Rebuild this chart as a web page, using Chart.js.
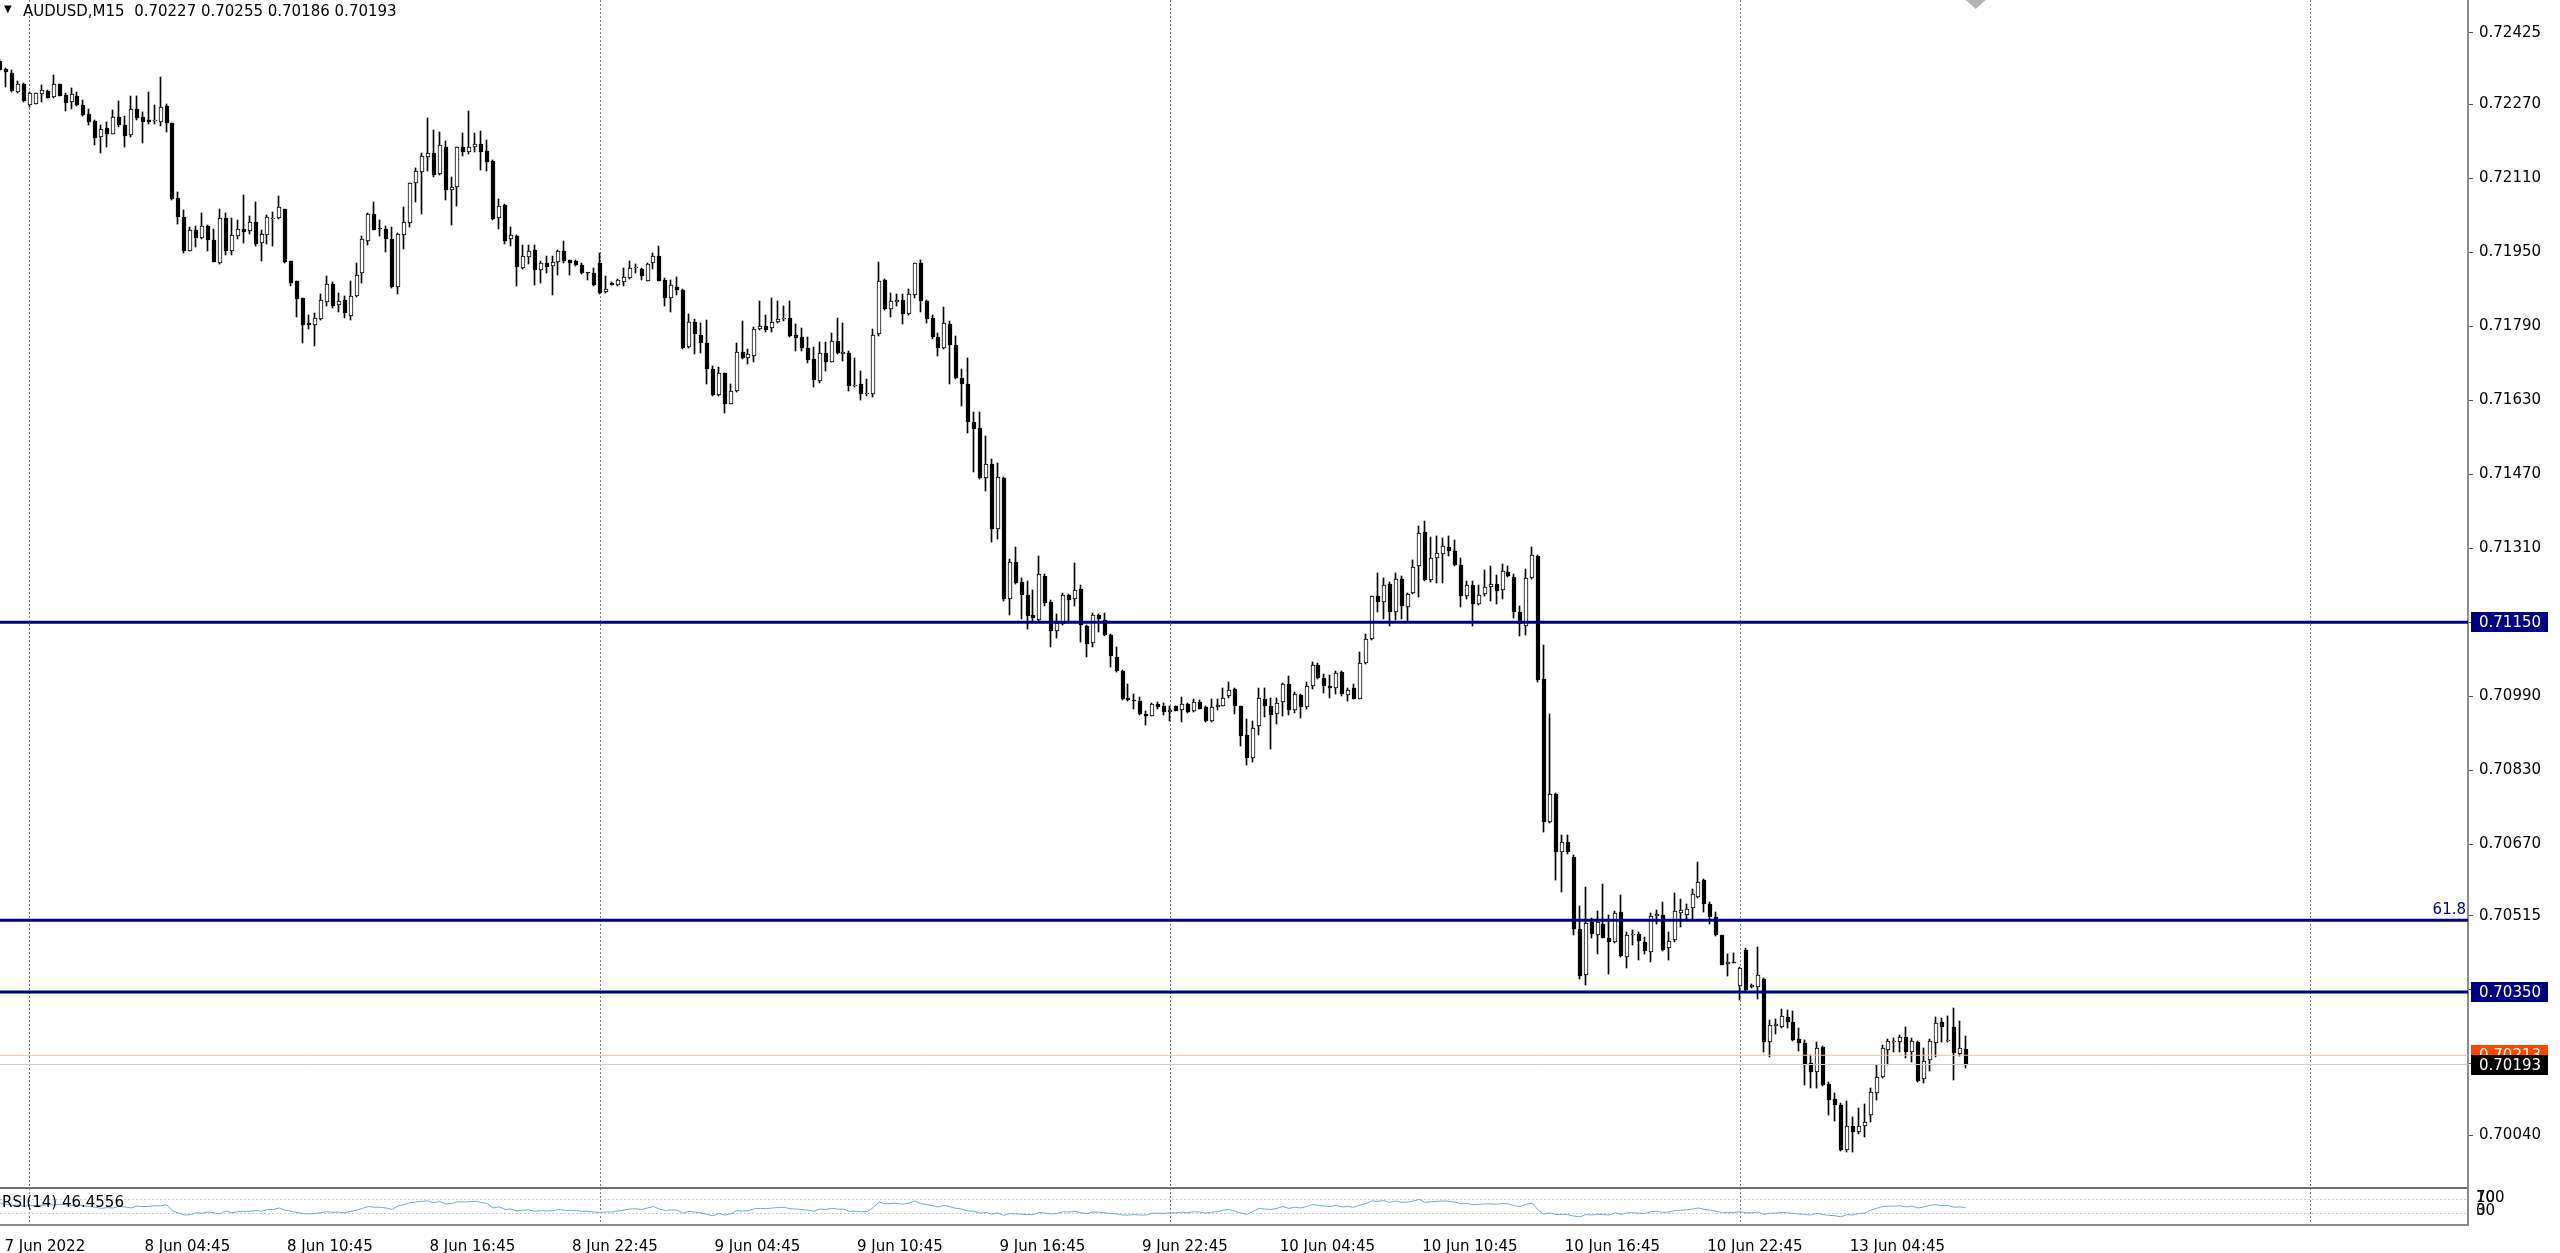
<!DOCTYPE html>
<html>
<head>
<meta charset="utf-8">
<script src="https://cdn.jsdelivr.net/npm/chart.js@4.4.0/dist/chart.umd.min.js"></script>
<style>
html, body { margin: 0; padding: 0; background: #fff; overflow: hidden; }
#wrap { position: relative; width: 2560px; height: 1253px; }
#main { position: absolute; left: 0; top: 0; }
#sub { position: absolute; left: 0; top: 1187px; }
.lbl { position: absolute; font: 15px "DejaVu Sans", sans-serif; color: #000; white-space: pre; }
</style>
</head>
<body>
<div id="wrap">
  <canvas id="main" width="2560" height="1187"></canvas>
  <canvas id="sub" width="2560" height="66"></canvas>
  <div class="lbl" style="left:4px;top:3px;font-size:10px">▼</div>
  <div class="lbl" style="left:23px;top:2px">AUDUSD,M15  0.70227 0.70255 0.70186 0.70193</div>
  <div class="lbl" style="left:2px;top:1193px">RSI(14) 46.4556</div>
</div>
<script>
// AUDUSD M15 candles (oldest first)
const opens = [
  0.72364,0.72347,0.72338,0.72297,0.72315,0.72269,0.72272,0.72292,0.72300,0.72287,
  0.72314,0.72290,0.72275,0.72288,0.72268,0.72249,0.72235,0.72199,0.72220,0.72207,
  0.72243,0.72225,0.72204,0.72261,0.72242,0.72236,0.72234,0.72233,0.72266,0.72229,
  0.72067,0.72027,0.71954,0.71999,0.71981,0.72007,0.71977,0.71928,0.72024,0.71954,
  0.71986,0.72000,0.71997,0.72015,0.71970,0.71988,0.72023,0.72024,0.72043,0.71932,
  0.71887,0.71851,0.71798,0.71792,0.71806,0.71843,0.71881,0.71837,0.71847,0.71813,
  0.71855,0.71906,0.71974,0.72033,0.72003,0.72001,0.71978,0.71875,0.71988,0.72014,
  0.72100,0.72123,0.72156,0.72166,0.72120,0.72178,0.72084,0.72091,0.72178,0.72168,
  0.72177,0.72184,0.72170,0.72147,0.72024,0.72053,0.71978,0.71986,0.71916,0.71940,
  0.71955,0.71911,0.71927,0.71920,0.71929,0.71952,0.71933,0.71931,0.71922,0.71906,
  0.71906,0.71927,0.71864,0.71884,0.71879,0.71885,0.71895,0.71917,0.71914,0.71889,
  0.71926,0.71943,0.71891,0.71852,0.71876,0.71869,0.71746,0.71799,0.71771,0.71753,
  0.71697,0.71642,0.71688,0.71623,0.71650,0.71735,0.71722,0.71726,0.71785,0.71791,
  0.71787,0.71800,0.71805,0.71807,0.71771,0.71767,0.71744,0.71720,0.71672,0.71733,
  0.71713,0.71758,0.71730,0.71733,0.71660,0.71665,0.71643,0.71643,0.71773,0.71890,
  0.71827,0.71843,0.71848,0.71816,0.71857,0.71926,0.71845,0.71807,0.71767,0.71744,
  0.71796,0.71749,0.71679,0.71666,0.71582,0.71569,0.71462,0.71493,0.71352,0.71462,
  0.71200,0.71281,0.71236,0.71208,0.71165,0.71155,0.71250,0.71194,0.71131,0.71146,
  0.71208,0.71200,0.71221,0.71141,0.71104,0.71165,0.71155,0.71123,0.71075,0.71045,
  0.70985,0.70982,0.70980,0.70951,0.70948,0.70974,0.70968,0.70955,0.70968,0.70960,
  0.70974,0.70957,0.70978,0.70966,0.70937,0.70966,0.70969,0.70991,0.71005,0.70968,
  0.70906,0.70856,0.70926,0.70984,0.70968,0.70951,0.70978,0.71016,0.70961,0.70992,
  0.70966,0.71012,0.71058,0.71030,0.71012,0.71007,0.71042,0.70993,0.71007,0.70984,
  0.71062,0.71114,0.71206,0.71194,0.71232,0.71173,0.71243,0.71182,0.71214,0.71272,
  0.71345,0.71242,0.71288,0.71297,0.71312,0.71303,0.71274,0.71207,0.71230,0.71189,
  0.71211,0.71225,0.71232,0.71220,0.71259,0.71247,0.71173,0.71142,0.71245,0.71294,
  0.71026,0.70718,0.70779,0.70653,0.70674,0.70642,0.70486,0.70386,0.70502,0.70474,
  0.70498,0.70466,0.70457,0.70522,0.70426,0.70473,0.70476,0.70458,0.70437,0.70514,
  0.70516,0.70444,0.70462,0.70520,0.70516,0.70532,0.70556,0.70592,0.70541,0.70512,
  0.70473,0.70411,0.70415,0.70363,0.70440,0.70360,0.70361,0.70379,0.70242,0.70277,
  0.70275,0.70295,0.70286,0.70248,0.70240,0.70196,0.70176,0.70230,0.70150,0.70119,
  0.70106,0.70008,0.70059,0.70047,0.70059,0.70084,0.70131,0.70165,0.70224,0.70241,
  0.70242,0.70253,0.70219,0.70242,0.70162,0.70203,0.70240,0.70286,0.70244,0.70275,
  0.70215,0.70227
];
const highs = [
  0.72369,0.72348,0.72344,0.72321,0.72317,0.72297,0.72295,0.72312,0.72301,0.72334,
  0.72315,0.72294,0.72305,0.72297,0.72279,0.72260,0.72236,0.72225,0.72233,0.72259,
  0.72277,0.72245,0.72288,0.72288,0.72254,0.72296,0.72269,0.72330,0.72272,0.72230,
  0.72081,0.72042,0.72004,0.72006,0.72035,0.72009,0.72000,0.72043,0.72035,0.72025,
  0.72020,0.72074,0.72029,0.72058,0.71999,0.72031,0.72038,0.72071,0.72044,0.71932,
  0.71889,0.71851,0.71815,0.71819,0.71860,0.71899,0.71885,0.71863,0.71855,0.71888,
  0.71926,0.71985,0.72035,0.72060,0.72021,0.72006,0.72005,0.71992,0.72048,0.72101,
  0.72132,0.72166,0.72240,0.72215,0.72210,0.72190,0.72114,0.72179,0.72208,0.72255,
  0.72208,0.72212,0.72194,0.72149,0.72065,0.72055,0.72004,0.71988,0.71967,0.71967,
  0.71965,0.71931,0.71943,0.71942,0.71956,0.71974,0.71934,0.71934,0.71927,0.71906,
  0.71916,0.71949,0.71898,0.71885,0.71893,0.71916,0.71931,0.71925,0.71916,0.71927,
  0.71949,0.71963,0.71895,0.71890,0.71897,0.71870,0.71816,0.71805,0.71797,0.71804,
  0.71704,0.71701,0.71690,0.71665,0.71753,0.71802,0.71742,0.71789,0.71845,0.71814,
  0.71852,0.71845,0.71835,0.71845,0.71794,0.71787,0.71768,0.71746,0.71756,0.71756,
  0.71775,0.71807,0.71798,0.71737,0.71722,0.71694,0.71676,0.71785,0.71929,0.71892,
  0.71863,0.71861,0.71859,0.71871,0.71928,0.71933,0.71847,0.71814,0.71775,0.71832,
  0.71802,0.71769,0.71697,0.71722,0.71605,0.71604,0.71553,0.71504,0.71494,0.71465,
  0.71287,0.71313,0.71246,0.71239,0.71220,0.71293,0.71254,0.71198,0.71167,0.71214,
  0.71210,0.71279,0.71230,0.71143,0.71169,0.71167,0.71169,0.71124,0.71097,0.71046,
  0.71016,0.70994,0.70989,0.70958,0.70976,0.70978,0.70976,0.70969,0.70969,0.70989,
  0.70976,0.70984,0.70982,0.70968,0.70984,0.70984,0.71007,0.71021,0.71007,0.70969,
  0.70940,0.70937,0.71007,0.71007,0.70985,0.70985,0.71018,0.71034,0.70998,0.70994,
  0.71020,0.71064,0.71061,0.71038,0.71035,0.71045,0.71045,0.71007,0.71016,0.71085,
  0.71124,0.71207,0.71256,0.71245,0.71236,0.71256,0.71249,0.71214,0.71285,0.71357,
  0.71369,0.71335,0.71337,0.71331,0.71337,0.71328,0.71288,0.71240,0.71240,0.71230,
  0.71263,0.71271,0.71252,0.71276,0.71272,0.71254,0.71184,0.71265,0.71313,0.71295,
  0.71101,0.70952,0.70781,0.70689,0.70689,0.70646,0.70536,0.70577,0.70509,0.70525,
  0.70584,0.70516,0.70525,0.70559,0.70480,0.70484,0.70480,0.70469,0.70520,0.70527,
  0.70545,0.70480,0.70563,0.70552,0.70541,0.70572,0.70631,0.70595,0.70545,0.70523,
  0.70474,0.70433,0.70435,0.70404,0.70444,0.70368,0.70448,0.70381,0.70289,0.70291,
  0.70313,0.70311,0.70309,0.70273,0.70246,0.70214,0.70241,0.70234,0.70156,0.70131,
  0.70109,0.70114,0.70080,0.70098,0.70107,0.70143,0.70193,0.70235,0.70248,0.70251,
  0.70257,0.70275,0.70250,0.70244,0.70229,0.70248,0.70296,0.70293,0.70299,0.70316,
  0.70287,0.70255
];
const lows = [
  0.72343,0.72308,0.72297,0.72295,0.72275,0.72265,0.72271,0.72276,0.72284,0.72285,
  0.72288,0.72256,0.72261,0.72267,0.72245,0.72225,0.72182,0.72166,0.72177,0.72206,
  0.72222,0.72179,0.72200,0.72236,0.72187,0.72228,0.72228,0.72223,0.72211,0.72063,
  0.72012,0.71948,0.71953,0.71961,0.71978,0.71952,0.71929,0.71925,0.71944,0.71944,
  0.71978,0.71970,0.71990,0.71963,0.71932,0.71968,0.71963,0.72022,0.71928,0.71878,
  0.71811,0.71754,0.71784,0.71748,0.71803,0.71833,0.71829,0.71822,0.71808,0.71803,
  0.71854,0.71883,0.71967,0.71998,0.71985,0.71950,0.71874,0.71859,0.71957,0.72005,
  0.72060,0.72032,0.72127,0.72114,0.72118,0.72064,0.72010,0.72050,0.72159,0.72163,
  0.72168,0.72129,0.72125,0.72021,0.72001,0.71969,0.71963,0.71878,0.71913,0.71924,
  0.71880,0.71883,0.71906,0.71857,0.71902,0.71927,0.71900,0.71920,0.71904,0.71891,
  0.71878,0.71861,0.71862,0.71880,0.71877,0.71878,0.71893,0.71906,0.71890,0.71888,
  0.71913,0.71888,0.71835,0.71820,0.71857,0.71742,0.71744,0.71730,0.71733,0.71665,
  0.71640,0.71640,0.71602,0.71622,0.71647,0.71720,0.71708,0.71712,0.71782,0.71778,
  0.71778,0.71798,0.71802,0.71768,0.71737,0.71737,0.71710,0.71658,0.71668,0.71694,
  0.71712,0.71730,0.71715,0.71650,0.71658,0.71631,0.71640,0.71638,0.71769,0.71825,
  0.71811,0.71834,0.71794,0.71814,0.71852,0.71820,0.71797,0.71763,0.71726,0.71742,
  0.71665,0.71677,0.71618,0.71560,0.71474,0.71460,0.71434,0.71323,0.71330,0.71196,
  0.71165,0.71232,0.71156,0.71135,0.71149,0.71153,0.71185,0.71097,0.71115,0.71143,
  0.71149,0.71185,0.71106,0.71074,0.71097,0.71128,0.71119,0.71052,0.71043,0.70982,
  0.70979,0.70962,0.70950,0.70927,0.70946,0.70963,0.70949,0.70937,0.70957,0.70935,
  0.70953,0.70955,0.70962,0.70933,0.70935,0.70961,0.70968,0.70987,0.70951,0.70881,
  0.70841,0.70848,0.70906,0.70944,0.70876,0.70930,0.70946,0.70949,0.70953,0.70942,
  0.70962,0.71005,0.71027,0.70997,0.70987,0.70994,0.70991,0.70980,0.70983,0.70983,
  0.71060,0.71112,0.71171,0.71157,0.71142,0.71155,0.71157,0.71153,0.71211,0.71204,
  0.71240,0.71237,0.71235,0.71235,0.71294,0.71272,0.71182,0.71201,0.71142,0.71187,
  0.71207,0.71196,0.71189,0.71201,0.71247,0.71160,0.71121,0.71122,0.71243,0.71021,
  0.70696,0.70716,0.70592,0.70566,0.70649,0.70473,0.70379,0.70365,0.70466,0.70433,
  0.70466,0.70388,0.70455,0.70426,0.70401,0.70451,0.70419,0.70433,0.70415,0.70498,
  0.70438,0.70419,0.70458,0.70491,0.70505,0.70507,0.70553,0.70523,0.70498,0.70471,
  0.70408,0.70385,0.70412,0.70332,0.70352,0.70358,0.70335,0.70219,0.70210,0.70260,
  0.70271,0.70271,0.70244,0.70222,0.70149,0.70143,0.70143,0.70147,0.70084,0.70070,
  0.70006,0.70003,0.70003,0.70042,0.70037,0.70068,0.70116,0.70163,0.70193,0.70221,
  0.70219,0.70208,0.70199,0.70156,0.70152,0.70179,0.70210,0.70242,0.70242,0.70160,
  0.70212,0.70186
];
const closes = [
  0.72344,0.72340,0.72300,0.72314,0.72277,0.72295,0.72294,0.72301,0.72285,0.72314,
  0.72289,0.72274,0.72292,0.72269,0.72247,0.72233,0.72198,0.72216,0.72207,0.72243,
  0.72225,0.72202,0.72261,0.72240,0.72233,0.72233,0.72235,0.72264,0.72229,0.72065,
  0.72027,0.71953,0.71999,0.71982,0.72006,0.71977,0.71930,0.72024,0.71954,0.71988,
  0.72000,0.71995,0.72015,0.71968,0.71990,0.72026,0.72025,0.72048,0.71930,0.71883,
  0.71850,0.71792,0.71793,0.71808,0.71846,0.71881,0.71835,0.71844,0.71819,0.71855,
  0.71902,0.71978,0.72032,0.71999,0.72001,0.71979,0.71875,0.71990,0.72015,0.72100,
  0.72127,0.72158,0.72166,0.72118,0.72183,0.72084,0.72091,0.72177,0.72168,0.72177,
  0.72185,0.72168,0.72145,0.72022,0.72051,0.71974,0.71988,0.71919,0.71943,0.71954,
  0.71911,0.71927,0.71919,0.71929,0.71952,0.71931,0.71927,0.71922,0.71906,0.71905,
  0.71879,0.71862,0.71870,0.71880,0.71890,0.71897,0.71916,0.71919,0.71898,0.71925,
  0.71943,0.71889,0.71852,0.71879,0.71869,0.71744,0.71799,0.71773,0.71755,0.71697,
  0.71642,0.71688,0.71623,0.71650,0.71735,0.71722,0.71730,0.71784,0.71791,0.71782,
  0.71800,0.71805,0.71807,0.71769,0.71764,0.71744,0.71717,0.71674,0.71732,0.71713,
  0.71758,0.71732,0.71735,0.71661,0.71664,0.71643,0.71645,0.71771,0.71888,0.71827,
  0.71845,0.71848,0.71816,0.71859,0.71926,0.71845,0.71805,0.71766,0.71744,0.71797,
  0.71749,0.71679,0.71665,0.71582,0.71568,0.71461,0.71493,0.71352,0.71465,0.71201,
  0.71280,0.71234,0.71209,0.71164,0.71158,0.71254,0.71191,0.71131,0.71149,0.71208,
  0.71198,0.71219,0.71143,0.71102,0.71166,0.71156,0.71122,0.71076,0.71045,0.70984,
  0.70981,0.70980,0.70951,0.70946,0.70973,0.70966,0.70955,0.70960,0.70958,0.70974,
  0.70955,0.70978,0.70963,0.70937,0.70966,0.70971,0.70987,0.71004,0.70968,0.70904,
  0.70856,0.70922,0.70985,0.70968,0.70949,0.70976,0.71016,0.70961,0.70994,0.70966,
  0.71012,0.71058,0.71030,0.71012,0.71008,0.71041,0.70995,0.71004,0.70984,0.71062,
  0.71114,0.71206,0.71194,0.71230,0.71171,0.71243,0.71184,0.71212,0.71270,0.71342,
  0.71242,0.71288,0.71299,0.71314,0.71304,0.71274,0.71207,0.71230,0.71189,0.71209,
  0.71225,0.71232,0.71218,0.71261,0.71249,0.71171,0.71146,0.71245,0.71295,0.71024,
  0.70718,0.70779,0.70653,0.70674,0.70653,0.70487,0.70385,0.70500,0.70476,0.70502,
  0.70467,0.70457,0.70520,0.70428,0.70474,0.70476,0.70460,0.70438,0.70515,0.70518,
  0.70440,0.70460,0.70525,0.70528,0.70529,0.70561,0.70588,0.70541,0.70512,0.70473,
  0.70409,0.70415,0.70413,0.70401,0.70354,0.70365,0.70386,0.70241,0.70278,0.70280,
  0.70298,0.70286,0.70246,0.70239,0.70192,0.70176,0.70228,0.70149,0.70116,0.70106,
  0.70008,0.70061,0.70047,0.70059,0.70068,0.70133,0.70165,0.70229,0.70244,0.70244,
  0.70253,0.70219,0.70244,0.70158,0.70201,0.70244,0.70282,0.70275,0.70244,0.70217,
  0.70229,0.70193
];
// RSI(14) line in the sub window
const rsiValues = [
  58,56,53,54,51,52,53,53,55,54, 56,55,53,54,52,50,48,45,47,46,
  50,49,46,51,50,50,52,52,55,38, 33,27,28,33,32,35,33,30,38,33,
  36,37,37,39,37,42,42,46,40,37, 34,31,30,31,33,36,34,35,33,37,
  40,45,50,48,48,46,42,52,55,60, 62,64,65,60,64,57,58,63,62,63,
  64,61,58,46,49,42,43,38,40,41, 37,39,38,39,42,40,39,39,37,37,
  35,34,35,35,38,40,43,44,42,46, 50,43,39,41,40,32,37,35,33,29,
  25,31,27,30,39,38,39,44,45,44, 46,47,48,44,43,42,40,37,43,42,
  45,43,43,37,37,36,36,47,62,57, 58,59,56,59,65,58,55,52,49,53,
  49,45,43,38,37,32,34,29,33,26, 31,30,29,28,28,34,32,30,31,36,
  35,37,33,31,35,35,33,31,30,27, 27,28,27,27,32,32,31,33,33,35,
  33,36,35,32,35,36,40,42,37,32, 29,37,45,43,42,45,50,45,48,46,
  50,55,53,51,50,53,49,50,48,54, 58,65,64,66,61,65,61,62,65,69,
  61,63,64,65,64,62,57,58,55,56, 57,57,56,58,57,52,50,56,59,40,
  29,33,28,29,28,24,22,28,27,29, 28,27,33,28,33,33,32,31,36,37,
  34,35,39,40,41,43,46,42,40,37, 34,34,34,36,33,33,35,29,32,32,
  34,33,31,30,28,27,32,28,26,25, 22,28,27,31,32,40,45,50,51,51,
  52,49,51,46,49,53,55,52,53,48, 49,46.4556
];
const priceTicks = [0.72425, 0.72270, 0.72110, 0.71950, 0.71790, 0.71630, 0.71470, 0.71310,
  0.71150, 0.70990, 0.70830, 0.70670, 0.70515, 0.70355, 0.70195, 0.70040];
const timeLabels = ['7 Jun 2022', '8 Jun 04:45', '8 Jun 10:45', '8 Jun 16:45', '8 Jun 22:45',
  '9 Jun 04:45', '9 Jun 10:45', '9 Jun 16:45', '9 Jun 22:45', '10 Jun 04:45', '10 Jun 10:45',
  '10 Jun 16:45', '10 Jun 22:45', '13 Jun 04:45'];
const levelLines = [0.71150, 0.70505, 0.70350];   // navy horizontal lines
const levelTags = [0.71150, 0.70350];
const fibLevel = 0.70505, fibText = '61.8';
const askPrice = 0.70213, bidPrice = 0.70193;
const rsiLevels = [30, 70];

// layout of the MT4 window
const xMin = -0.05, xMax = 415.6;
const yMin = 0.69928, yMax = 0.72496;
const axisW = 92;
const firstLabelBar = 5, labelStep = 24, labelShift = 2.5, dayStep = 96, dayCount = 5;
const arrowBar = 332.7;
const NAVY = '#000080';
const FONT = '"DejaVu Sans", sans-serif';

Chart.defaults.font.family = FONT;
Chart.defaults.font.size = 15;
Chart.defaults.color = '#000';

const idx = closes.map((_, i) => i);
const dayGrid = Array.from({length: dayCount}, (_, k) => firstLabelBar + k * dayStep);

const hline = (v, color, width) => ({
  type: 'line', data: [{x: xMin, y: v}, {x: xMax, y: v}], borderColor: color,
  borderWidth: width, pointRadius: 0, order: -1, xAxisID: 'x', yAxisID: 'y'
});

// no half-label padding: the plot must fill the whole window
const noPad = s => { s.paddingTop = 0; s.paddingBottom = 0; s.paddingLeft = 0; s.paddingRight = 0; };

// snap candle bodies and wicks to whole pixels so they stay crisp
const snapPlugin = {
  id: 'snap',
  beforeDatasetsDraw(c) {
    c.getDatasetMeta(0).data.forEach(el => {
      el.x = Math.round(el.x); el.y = Math.round(el.y); el.base = Math.round(el.base);
    });
    c.getDatasetMeta(1).data.forEach(el => {
      el.x = Math.round(el.x) - 0.5; el.y = Math.round(el.y); el.base = Math.round(el.base);
    });
  }
};

const tagPlugin = {
  id: 'tags',
  afterDraw(c) {
    const ctx = c.ctx, ys = c.scales.y, xs = c.scales.x, a = c.chartArea;
    ctx.save();
    ctx.font = '15px ' + FONT;
    ctx.textBaseline = 'middle';
    const tag = (v, bg) => {
      const y = Math.round(ys.getPixelForValue(v));
      ctx.fillStyle = bg;
      ctx.fillRect(a.right + 3, y - 10, 77, 20);
      ctx.fillStyle = '#fff';
      ctx.fillText(v.toFixed(5), a.right + 11, y + 1);
    };
    tag(askPrice, '#ff4500');
    tag(bidPrice, '#000');
    levelTags.forEach(v => tag(v, NAVY));
    // fibo level caption
    ctx.fillStyle = NAVY;
    ctx.textAlign = 'right';
    ctx.fillText(fibText, a.right - 2, ys.getPixelForValue(fibLevel) - 10);
    // arrow object at the top edge
    const ax = xs.getPixelForValue(arrowBar);
    ctx.fillStyle = '#b4b4b4';
    ctx.beginPath();
    ctx.moveTo(ax - 10, a.top);
    ctx.lineTo(ax + 10, a.top);
    ctx.lineTo(ax, a.top + 9);
    ctx.closePath();
    ctx.fill();
    ctx.restore();
  }
};

new Chart(document.getElementById('main'), {
  type: 'bar',
  data: {
    datasets: [
      {
        type: 'bar', order: 0, grouped: false, barThickness: 4, minBarLength: 1,
        data: idx.map(i => ({x: i, y: [opens[i], closes[i]]})),
        backgroundColor: idx.map(i => closes[i] >= opens[i] ? '#fff' : '#000'),
        borderColor: '#000', borderWidth: 1, borderSkipped: false
      },
      {
        type: 'bar', order: 1, grouped: false, barThickness: 1,
        data: idx.map(i => ({x: i, y: [lows[i], highs[i]]})),
        backgroundColor: '#000'
      },
      hline(askPrice, '#f0bf9c', 1),
      hline(bidPrice, '#c8cad6', 1),
      ...levelLines.map(v => hline(v, NAVY, 3))
    ]
  },
  options: {
    responsive: false, animation: false, events: [],
    layout: {padding: 0, autoPadding: false},
    plugins: {legend: {display: false}, tooltip: {enabled: false}},
    scales: {
      x: {
        type: 'linear', min: xMin, max: xMax, offset: false, position: 'bottom',
        afterBuildTicks: s => { s.ticks = dayGrid.map(v => ({value: v})); },
        afterFit: s => { s.height = 0; noPad(s); },
        ticks: {display: false},
        grid: {offset: false, color: '#7a7a7a', drawTicks: false},
        border: {display: false, dash: [2, 2]}
      },
      y: {
        position: 'right', min: yMin, max: yMax, beginAtZero: false,
        afterBuildTicks: s => { s.ticks = priceTicks.map(v => ({value: v})); },
        afterFit: s => { s.width = axisW; noPad(s); },
        ticks: {callback: v => v.toFixed(5), autoSkip: false, padding: 6, color: '#000'},
        grid: {drawOnChartArea: false, drawTicks: true, tickLength: 5, tickColor: '#555'},
        border: {display: true, color: '#8c8c8c', width: 2}
      }
    }
  },
  plugins: [snapPlugin, tagPlugin]
});

const rsiPlugin = {
  id: 'rsiDeco',
  afterDraw(c) {
    const ctx = c.ctx, a = c.chartArea, ys = c.scales.y;
    ctx.save();
    ctx.strokeStyle = '#6e6e6e';
    ctx.lineWidth = 2;
    ctx.beginPath();
    ctx.moveTo(0, a.top); ctx.lineTo(a.right, a.top);
    ctx.stroke();
    ctx.strokeStyle = '#8c8c8c';
    ctx.beginPath();
    ctx.moveTo(0, a.bottom); ctx.lineTo(a.right + 1, a.bottom);
    ctx.moveTo(a.right, 0); ctx.lineTo(a.right, a.bottom);
    ctx.stroke();
    ctx.fillStyle = '#000';
    ctx.font = '15px ' + FONT;
    ctx.textBaseline = 'middle';
    const y70 = ys.getPixelForValue(70) - 1, y30 = ys.getPixelForValue(30) - 3;
    ctx.fillText('100', a.right + 8, y70);
    ctx.fillText('70', a.right + 8, y70);
    ctx.fillText('30', a.right + 8, y30);
    ctx.fillText('0', a.right + 8, y30);
    ctx.restore();
  }
};

new Chart(document.getElementById('sub'), {
  type: 'line',
  data: {
    datasets: [{
      data: idx.map(i => ({x: i, y: rsiValues[i]})),
      borderColor: '#6cadc8', borderWidth: 1, pointRadius: 0, tension: 0,
      xAxisID: 'x', yAxisID: 'y'
    }]
  },
  options: {
    responsive: false, animation: false, events: [],
    layout: {padding: {top: 1, left: 0, right: 0, bottom: 0}, autoPadding: false},
    plugins: {legend: {display: false}, tooltip: {enabled: false}},
    scales: {
      x: {
        type: 'linear', min: xMin, max: xMax, position: 'bottom',
        afterBuildTicks: s => {
          s.ticks = timeLabels.map((t, k) => ({value: firstLabelBar + k * labelStep + labelShift}));
        },
        afterFit: s => { s.height = 28; noPad(s); },
        ticks: {callback: (v, k) => timeLabels[k], autoSkip: false, maxRotation: 0, padding: 5, color: '#000'},
        grid: {display: false},
        border: {display: false}
      },
      xg: {
        type: 'linear', min: xMin, max: xMax, position: 'bottom',
        afterBuildTicks: s => { s.ticks = dayGrid.map(v => ({value: v})); },
        afterFit: s => { s.height = 0; noPad(s); },
        ticks: {display: false},
        grid: {color: '#7a7a7a', drawTicks: false},
        border: {display: false, dash: [2, 2]}
      },
      y: {
        position: 'right', min: 0, max: 100,
        afterBuildTicks: s => { s.ticks = rsiLevels.map(v => ({value: v})); },
        afterFit: s => { s.width = axisW; noPad(s); },
        ticks: {display: false},
        grid: {color: '#c8c8c8', drawTicks: false},
        border: {display: false, dash: [2, 2]}
      }
    }
  },
  plugins: [rsiPlugin]
});
</script>
</body>
</html>
